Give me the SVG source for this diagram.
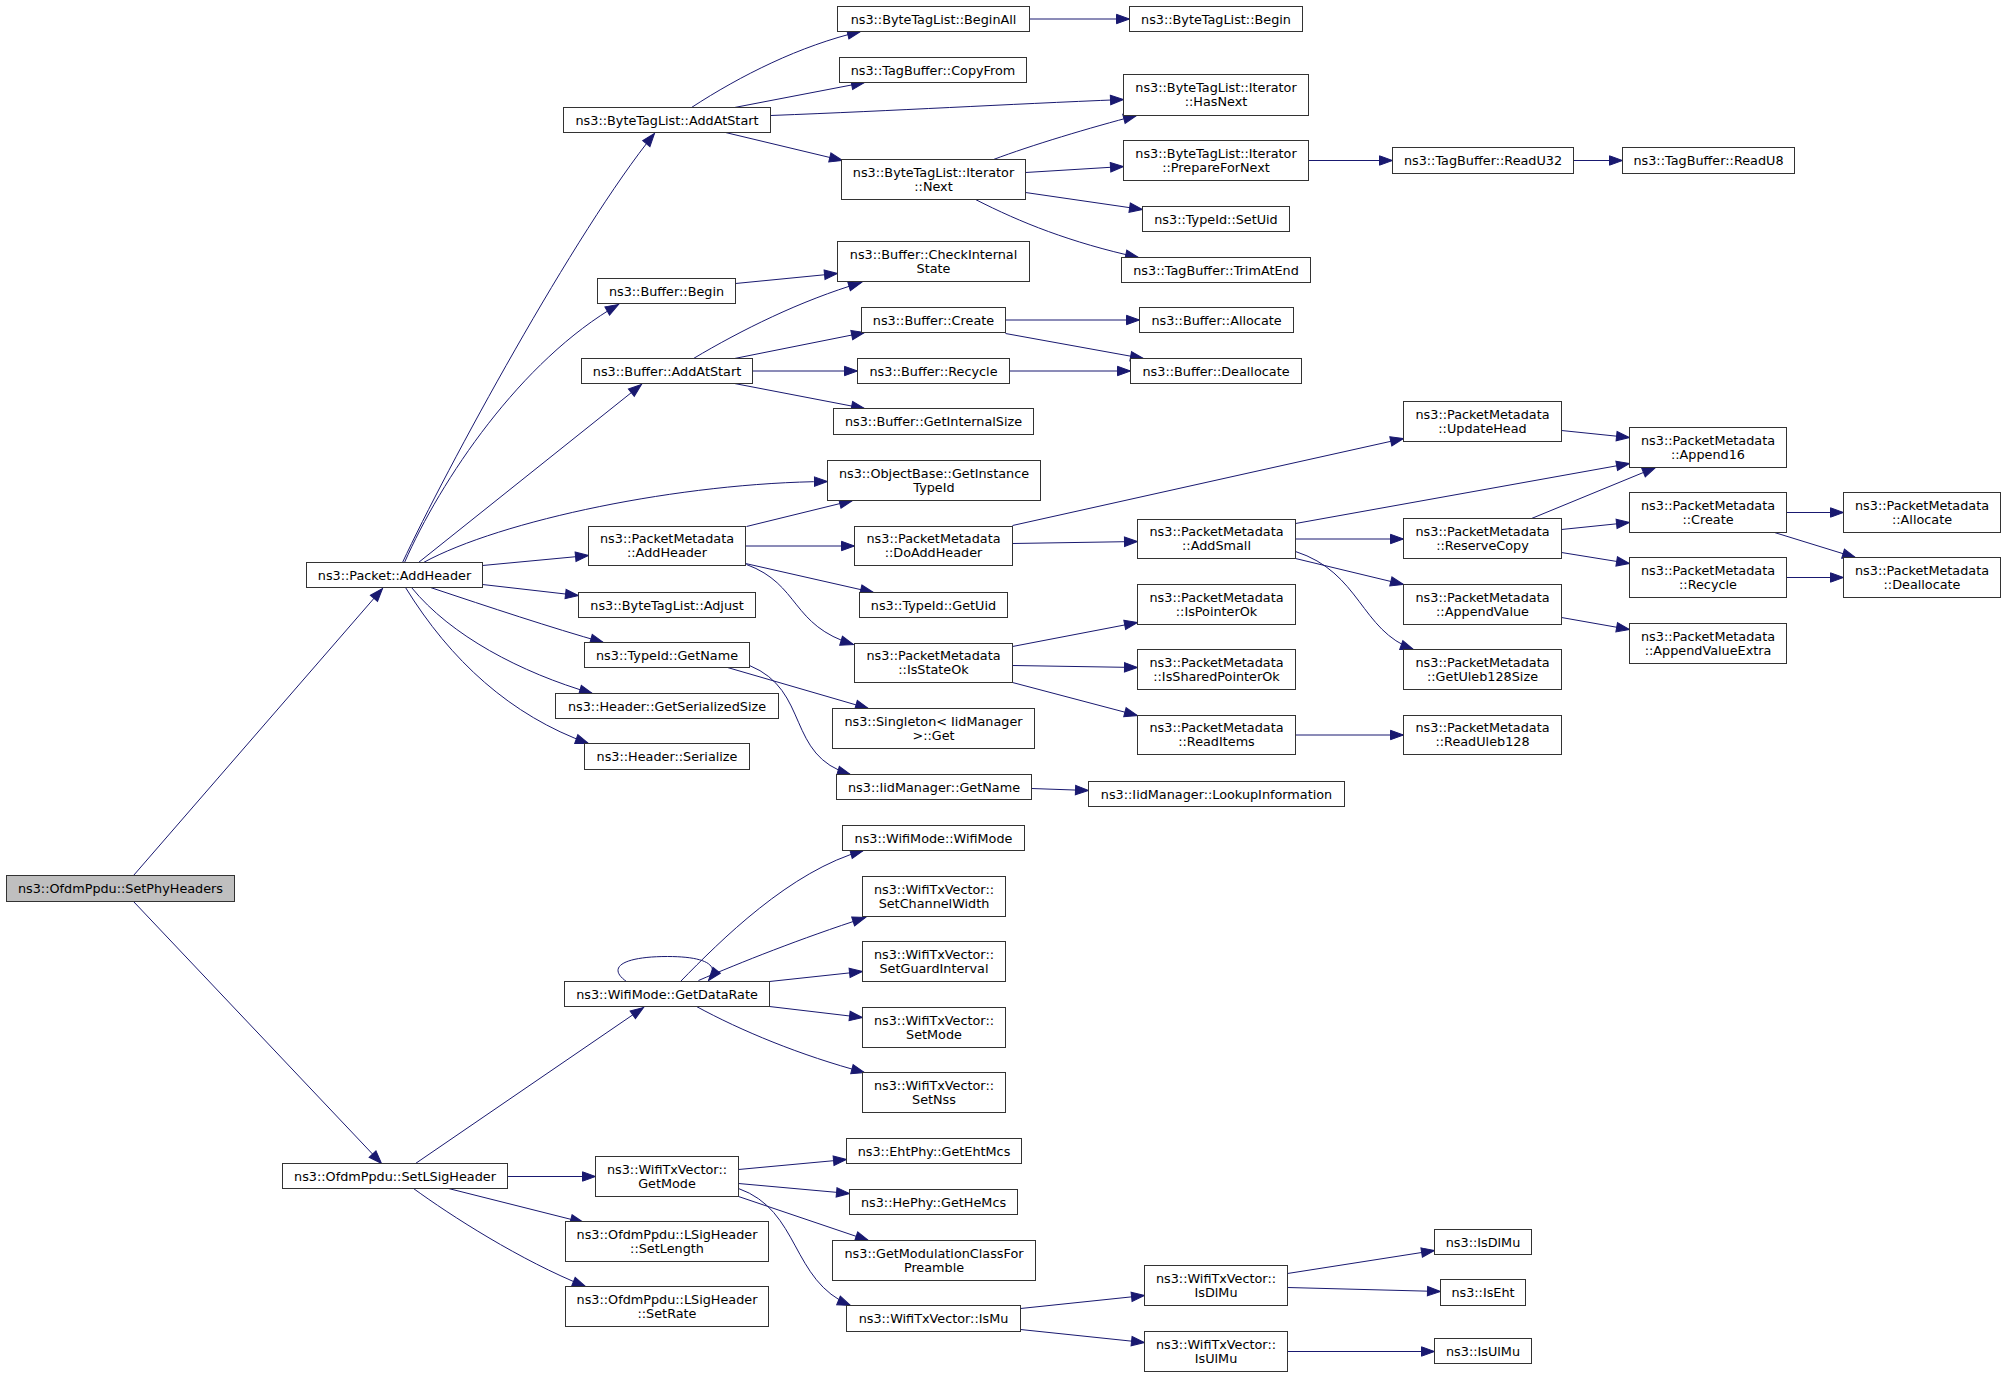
<svg xmlns="http://www.w3.org/2000/svg" width="2005" height="1376" viewBox="0 0 2005 1376">
<defs>
<marker id="a" markerWidth="13" markerHeight="9.4" refX="13" refY="4.7" orient="auto" markerUnits="userSpaceOnUse" viewBox="0 0 13 9.4" overflow="visible">
<path d="M0,0 L13,4.7 L0,9.4 z" fill="#191970" stroke="#191970" stroke-width="1"/>
</marker>
</defs>
<style>
rect{fill:#ffffff;stroke:#333333;stroke-width:1}
rect.root{fill:#bfbfbf}
text{font-family:"DejaVu Sans","Liberation Sans",sans-serif;font-size:12.8px;text-anchor:middle;fill:#000000}
#edges path{fill:none;stroke:#191970;stroke-width:1;marker-end:url(#a)}
</style>
<rect x="0" y="0" width="2005" height="1376" style="fill:#ffffff;stroke:none"/>
<g transform="translate(0.5,0.5)">
<g id="edges">
<path d="M133,875 L382,588"/>
<path d="M133,901 L381,1163"/>
<path d="M402,562 C445,470 575,230 654,133"/>
<path d="M404,562 C440,480 520,360 618,304"/>
<path d="M418,562 L641,384"/>
<path d="M423,562 C500,520 680,482 827,481"/>
<path d="M482,565 L588,555"/>
<path d="M482,584 L578,595"/>
<path d="M430,587 C490,607 550,627 603,642"/>
<path d="M411,587 C450,635 520,672 592,693"/>
<path d="M405,587 C450,660 510,715 588,743"/>
<path d="M691,107 C740,75 800,45 860,31"/>
<path d="M734,107 L864,82"/>
<path d="M770,115 C900,110 1000,104 1123,99"/>
<path d="M725,132 L842,160"/>
<path d="M993,159 C1030,145 1090,127 1136,115"/>
<path d="M1025,172 L1123,166"/>
<path d="M1025,192 L1142,209"/>
<path d="M975,199 C1020,222 1070,242 1138,257"/>
<path d="M1029,18.5 L1129,18.5"/>
<path d="M1308,160 L1392,160"/>
<path d="M1573,160 L1622,160"/>
<path d="M735,283 L837,273"/>
<path d="M693,358 C740,330 800,300 861,282"/>
<path d="M734,358 L864,332"/>
<path d="M752,370.5 L857,370.5"/>
<path d="M734,383 L864,408"/>
<path d="M1005,319.5 L1139,319.5"/>
<path d="M1005,333 L1143,358"/>
<path d="M1009,370.5 L1130,370.5"/>
<path d="M746,526 L852,500"/>
<path d="M745,545.5 L854,545.5"/>
<path d="M745,563 L873,592"/>
<path d="M746,564 C800,584 790,625 853,644"/>
<path d="M1012,525 L1403,438"/>
<path d="M1012,543 L1137,541"/>
<path d="M1012,646 L1137,622"/>
<path d="M1012,665 L1137,667"/>
<path d="M1012,682 L1137,715"/>
<path d="M727,667 L868,708"/>
<path d="M749,665 C810,690 785,755 850,774"/>
<path d="M1031,788 L1088,790"/>
<path d="M1295,523 L1629,463"/>
<path d="M1295,538.5 L1403,538.5"/>
<path d="M1295,558 L1403,584"/>
<path d="M1295,551 C1360,572 1360,630 1413,649"/>
<path d="M1561,430 L1629,437"/>
<path d="M1531,518 L1655,467"/>
<path d="M1561,529 L1629,522"/>
<path d="M1561,552 L1629,563"/>
<path d="M1561,617 L1629,629"/>
<path d="M1786,512 L1843,512"/>
<path d="M1774,532 L1855,557"/>
<path d="M1786,577 L1843,577"/>
<path d="M1295,734.5 L1403,734.5"/>
<path d="M680,981 C720,940 790,870 863,850"/>
<path d="M698,980 C740,962 800,938 865,917"/>
<path d="M626,981 C606,967 622,956 667,956 C706,956 720,965 708,980"/>
<path d="M769,981 L862,971"/>
<path d="M769,1006 L862,1017"/>
<path d="M696,1006 C740,1030 800,1055 864,1072"/>
<path d="M415,1163 L643,1007"/>
<path d="M507,1176 L595,1176"/>
<path d="M448,1188 L583,1222"/>
<path d="M413,1188 C450,1215 520,1260 585,1286"/>
<path d="M738,1169 L846,1159"/>
<path d="M738,1183 L849,1193"/>
<path d="M738,1196 L868,1240"/>
<path d="M738,1188 C800,1210 790,1280 850,1305"/>
<path d="M1020,1308 L1144,1295"/>
<path d="M1020,1329 L1144,1342"/>
<path d="M1287,1273 L1434,1250"/>
<path d="M1287,1287 L1440,1291"/>
<path d="M1287,1351 L1434,1351"/>
</g>
<g id="n0"><rect class="root" x="6" y="875" width="228" height="26"/><text x="120" y="892.5">ns3::OfdmPpdu::SetPhyHeaders</text></g>
<g id="n1"><rect x="306" y="562" width="176" height="25"/><text x="394" y="579">ns3::Packet::AddHeader</text></g>
<g id="n2"><rect x="282" y="1163" width="225" height="25"/><text x="394.5" y="1180">ns3::OfdmPpdu::SetLSigHeader</text></g>
<g id="n3"><rect x="563" y="107" width="207" height="25"/><text x="666.5" y="124">ns3::ByteTagList::AddAtStart</text></g>
<g id="n4"><rect x="597" y="278" width="138" height="25"/><text x="666" y="295">ns3::Buffer::Begin</text></g>
<g id="n5"><rect x="581" y="358" width="171" height="25"/><text x="666.5" y="375">ns3::Buffer::AddAtStart</text></g>
<g id="n6"><rect x="588" y="526" width="157" height="39"/><text x="666.5" y="542.5">ns3::PacketMetadata</text><text x="666.5" y="556.5">::AddHeader</text></g>
<g id="n7"><rect x="578" y="592" width="177" height="25"/><text x="666.5" y="609">ns3::ByteTagList::Adjust</text></g>
<g id="n8"><rect x="584" y="642" width="165" height="25"/><text x="666.5" y="659">ns3::TypeId::GetName</text></g>
<g id="n9"><rect x="555" y="693" width="223" height="25"/><text x="666.5" y="710">ns3::Header::GetSerializedSize</text></g>
<g id="n10"><rect x="584" y="743" width="165" height="26"/><text x="666.5" y="760.5">ns3::Header::Serialize</text></g>
<g id="n11"><rect x="564" y="981" width="205" height="25"/><text x="666.5" y="998">ns3::WifiMode::GetDataRate</text></g>
<g id="n12"><rect x="595" y="1156" width="143" height="40"/><text x="666.5" y="1173">ns3::WifiTxVector::</text><text x="666.5" y="1187">GetMode</text></g>
<g id="n13"><rect x="565" y="1221" width="203" height="40"/><text x="666.5" y="1238">ns3::OfdmPpdu::LSigHeader</text><text x="666.5" y="1252">::SetLength</text></g>
<g id="n14"><rect x="565" y="1286" width="203" height="40"/><text x="666.5" y="1303">ns3::OfdmPpdu::LSigHeader</text><text x="666.5" y="1317">::SetRate</text></g>
<g id="n15"><rect x="837" y="6" width="192" height="25"/><text x="933" y="23">ns3::ByteTagList::BeginAll</text></g>
<g id="n16"><rect x="839" y="57" width="187" height="25"/><text x="932.5" y="74">ns3::TagBuffer::CopyFrom</text></g>
<g id="n17"><rect x="841" y="159" width="184" height="40"/><text x="933" y="176">ns3::ByteTagList::Iterator</text><text x="933" y="190">::Next</text></g>
<g id="n18"><rect x="837" y="241" width="192" height="40"/><text x="933" y="258">ns3::Buffer::CheckInternal</text><text x="933" y="272">State</text></g>
<g id="n19"><rect x="861" y="307" width="144" height="25"/><text x="933" y="324">ns3::Buffer::Create</text></g>
<g id="n20"><rect x="857" y="358" width="152" height="25"/><text x="933" y="375">ns3::Buffer::Recycle</text></g>
<g id="n21"><rect x="833" y="408" width="200" height="26"/><text x="933" y="425.5">ns3::Buffer::GetInternalSize</text></g>
<g id="n22"><rect x="827" y="460" width="213" height="40"/><text x="933.5" y="477">ns3::ObjectBase::GetInstance</text><text x="933.5" y="491">TypeId</text></g>
<g id="n23"><rect x="854" y="526" width="158" height="39"/><text x="933" y="542.5">ns3::PacketMetadata</text><text x="933" y="556.5">::DoAddHeader</text></g>
<g id="n24"><rect x="859" y="592" width="148" height="25"/><text x="933" y="609">ns3::TypeId::GetUid</text></g>
<g id="n25"><rect x="854" y="643" width="158" height="39"/><text x="933" y="659.5">ns3::PacketMetadata</text><text x="933" y="673.5">::IsStateOk</text></g>
<g id="n26"><rect x="832" y="708" width="202" height="40"/><text x="933" y="725">ns3::Singleton&lt; IidManager</text><text x="933" y="739">&gt;::Get</text></g>
<g id="n27"><rect x="836" y="774" width="195" height="25"/><text x="933.5" y="791">ns3::IidManager::GetName</text></g>
<g id="n28"><rect x="842" y="825" width="182" height="25"/><text x="933" y="842">ns3::WifiMode::WifiMode</text></g>
<g id="n29"><rect x="862" y="876" width="143" height="40"/><text x="933.5" y="893">ns3::WifiTxVector::</text><text x="933.5" y="907">SetChannelWidth</text></g>
<g id="n30"><rect x="862" y="941" width="143" height="40"/><text x="933.5" y="958">ns3::WifiTxVector::</text><text x="933.5" y="972">SetGuardInterval</text></g>
<g id="n31"><rect x="862" y="1007" width="143" height="40"/><text x="933.5" y="1024">ns3::WifiTxVector::</text><text x="933.5" y="1038">SetMode</text></g>
<g id="n32"><rect x="862" y="1072" width="143" height="40"/><text x="933.5" y="1089">ns3::WifiTxVector::</text><text x="933.5" y="1103">SetNss</text></g>
<g id="n33"><rect x="846" y="1138" width="175" height="25"/><text x="933.5" y="1155">ns3::EhtPhy::GetEhtMcs</text></g>
<g id="n34"><rect x="849" y="1189" width="168" height="25"/><text x="933" y="1206">ns3::HePhy::GetHeMcs</text></g>
<g id="n35"><rect x="832" y="1240" width="203" height="40"/><text x="933.5" y="1257">ns3::GetModulationClassFor</text><text x="933.5" y="1271">Preamble</text></g>
<g id="n36"><rect x="846" y="1305" width="174" height="26"/><text x="933" y="1322.5">ns3::WifiTxVector::IsMu</text></g>
<g id="n37"><rect x="1129" y="6" width="173" height="25"/><text x="1215.5" y="23">ns3::ByteTagList::Begin</text></g>
<g id="n38"><rect x="1123" y="74" width="185" height="41"/><text x="1215.5" y="91.5">ns3::ByteTagList::Iterator</text><text x="1215.5" y="105.5">::HasNext</text></g>
<g id="n39"><rect x="1123" y="140" width="185" height="40"/><text x="1215.5" y="157">ns3::ByteTagList::Iterator</text><text x="1215.5" y="171">::PrepareForNext</text></g>
<g id="n40"><rect x="1142" y="206" width="147" height="25"/><text x="1215.5" y="223">ns3::TypeId::SetUid</text></g>
<g id="n41"><rect x="1121" y="257" width="189" height="25"/><text x="1215.5" y="274">ns3::TagBuffer::TrimAtEnd</text></g>
<g id="n42"><rect x="1139" y="307" width="154" height="25"/><text x="1216" y="324">ns3::Buffer::Allocate</text></g>
<g id="n43"><rect x="1130" y="358" width="171" height="25"/><text x="1215.5" y="375">ns3::Buffer::Deallocate</text></g>
<g id="n44"><rect x="1137" y="519" width="158" height="39"/><text x="1216" y="535.5">ns3::PacketMetadata</text><text x="1216" y="549.5">::AddSmall</text></g>
<g id="n45"><rect x="1137" y="584" width="158" height="40"/><text x="1216" y="601">ns3::PacketMetadata</text><text x="1216" y="615">::IsPointerOk</text></g>
<g id="n46"><rect x="1137" y="649" width="158" height="40"/><text x="1216" y="666">ns3::PacketMetadata</text><text x="1216" y="680">::IsSharedPointerOk</text></g>
<g id="n47"><rect x="1137" y="715" width="158" height="39"/><text x="1216" y="731.5">ns3::PacketMetadata</text><text x="1216" y="745.5">::ReadItems</text></g>
<g id="n48"><rect x="1088" y="781" width="256" height="25"/><text x="1216" y="798">ns3::IidManager::LookupInformation</text></g>
<g id="n49"><rect x="1144" y="1265" width="143" height="40"/><text x="1215.5" y="1282">ns3::WifiTxVector::</text><text x="1215.5" y="1296">IsDlMu</text></g>
<g id="n50"><rect x="1144" y="1331" width="143" height="40"/><text x="1215.5" y="1348">ns3::WifiTxVector::</text><text x="1215.5" y="1362">IsUlMu</text></g>
<g id="n51"><rect x="1392" y="147" width="181" height="26"/><text x="1482.5" y="164.5">ns3::TagBuffer::ReadU32</text></g>
<g id="n52"><rect x="1403" y="401" width="158" height="40"/><text x="1482" y="418">ns3::PacketMetadata</text><text x="1482" y="432">::UpdateHead</text></g>
<g id="n53"><rect x="1403" y="518" width="158" height="40"/><text x="1482" y="535">ns3::PacketMetadata</text><text x="1482" y="549">::ReserveCopy</text></g>
<g id="n54"><rect x="1403" y="584" width="158" height="40"/><text x="1482" y="601">ns3::PacketMetadata</text><text x="1482" y="615">::AppendValue</text></g>
<g id="n55"><rect x="1403" y="649" width="158" height="40"/><text x="1482" y="666">ns3::PacketMetadata</text><text x="1482" y="680">::GetUleb128Size</text></g>
<g id="n56"><rect x="1403" y="715" width="158" height="39"/><text x="1482" y="731.5">ns3::PacketMetadata</text><text x="1482" y="745.5">::ReadUleb128</text></g>
<g id="n57"><rect x="1434" y="1229" width="97" height="25"/><text x="1482.5" y="1246">ns3::IsDlMu</text></g>
<g id="n58"><rect x="1440" y="1279" width="85" height="26"/><text x="1482.5" y="1296.5">ns3::IsEht</text></g>
<g id="n59"><rect x="1434" y="1338" width="97" height="25"/><text x="1482.5" y="1355">ns3::IsUlMu</text></g>
<g id="n60"><rect x="1622" y="147" width="172" height="26"/><text x="1708" y="164.5">ns3::TagBuffer::ReadU8</text></g>
<g id="n61"><rect x="1629" y="427" width="157" height="40"/><text x="1707.5" y="444">ns3::PacketMetadata</text><text x="1707.5" y="458">::Append16</text></g>
<g id="n62"><rect x="1629" y="492" width="157" height="40"/><text x="1707.5" y="509">ns3::PacketMetadata</text><text x="1707.5" y="523">::Create</text></g>
<g id="n63"><rect x="1629" y="557" width="157" height="40"/><text x="1707.5" y="574">ns3::PacketMetadata</text><text x="1707.5" y="588">::Recycle</text></g>
<g id="n64"><rect x="1629" y="623" width="157" height="40"/><text x="1707.5" y="640">ns3::PacketMetadata</text><text x="1707.5" y="654">::AppendValueExtra</text></g>
<g id="n65"><rect x="1843" y="492" width="157" height="40"/><text x="1921.5" y="509">ns3::PacketMetadata</text><text x="1921.5" y="523">::Allocate</text></g>
<g id="n66"><rect x="1843" y="557" width="157" height="40"/><text x="1921.5" y="574">ns3::PacketMetadata</text><text x="1921.5" y="588">::Deallocate</text></g>
</g>
</svg>
